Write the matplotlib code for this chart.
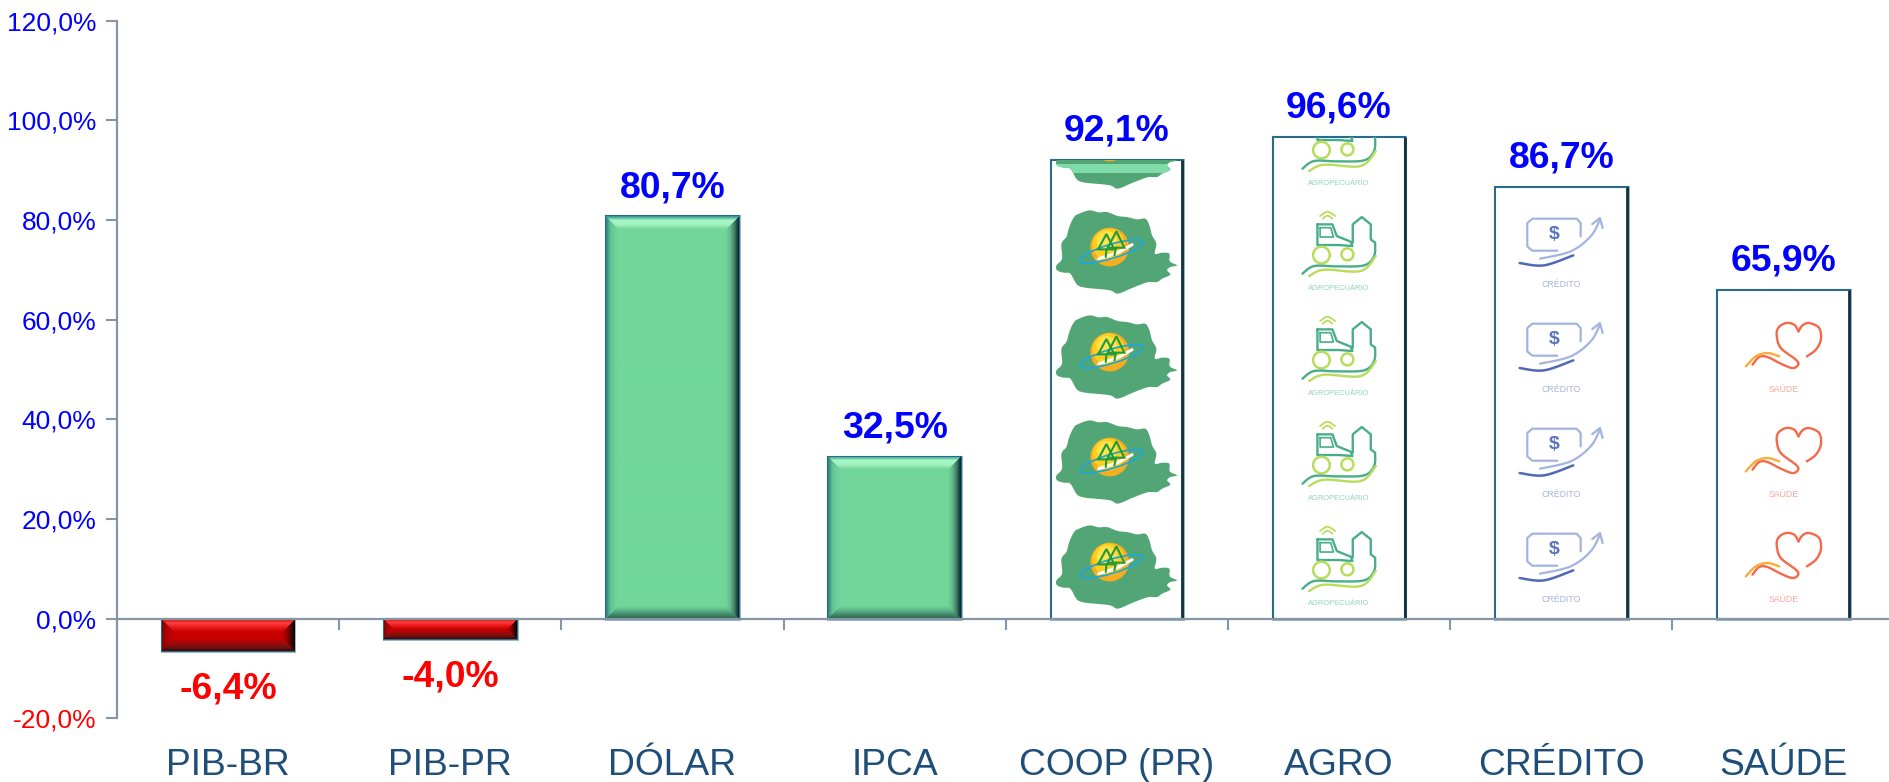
import numpy as np
import matplotlib
matplotlib.use("Agg")
import matplotlib.pyplot as plt
import matplotlib.patheffects as pe
from matplotlib.patches import Circle, Ellipse, PathPatch, Polygon, Rectangle
from matplotlib.path import Path
from matplotlib.transforms import Affine2D

categories = ["PIB-BR", "PIB-PR", "DÓLAR", "IPCA", "COOP (PR)", "AGRO", "CRÉDITO", "SAÚDE"]
values = [-6.4, -4.0, 80.7, 32.5, 92.1, 96.6, 86.7, 65.9]
value_labels = ["-6,4%", "-4,0%", "80,7%", "32,5%", "92,1%", "96,6%", "86,7%", "65,9%"]
y_ticks = [-20, 0, 20, 40, 60, 80, 100, 120]
y_tick_labels = ["-20,0%", "0,0%", "20,0%", "40,0%", "60,0%", "80,0%", "100,0%", "120,0%"]

plt.rcParams["font.family"] = ["Liberation Sans", "DejaVu Sans"]

W, H = 1890, 782
LEFT, RIGHT, Y0, YTOP = 117, 1890, 718.4, 20.5
fig = plt.figure(figsize=(W / 100, H / 100), dpi=100)
ax = fig.add_axes([LEFT / W, (H - Y0) / H, (RIGHT - LEFT) / W, (Y0 - YTOP) / H])
CAT_PX = 222.2
ax.set_xlim(-0.5, -0.5 + (RIGHT - LEFT) / CAT_PX)
ax.set_ylim(-20, 120)
PX_X = CAT_PX
PX_Y = (Y0 - YTOP) / 140
BAR_W = 0.597
AXC = "#8794a3"

for s in ("top", "right"):
    ax.spines[s].set_visible(False)
ax.spines["bottom"].set_position(("data", 0))
for s in ("left", "bottom"):
    ax.spines[s].set_color(AXC)
    ax.spines[s].set_linewidth(1.6)

ax.set_yticks(y_ticks)
ax.set_yticklabels(y_tick_labels, fontsize=19)
for lab, v in zip(ax.get_yticklabels(), y_ticks):
    lab.set_color("#ff0000" if v < 0 else "#0000ff")
ax.tick_params(axis="y", length=8, width=1.5, color=AXC, pad=7)
ax.set_xticks(np.arange(-0.5, 7, 1.0))
ax.set_xticklabels([])
ax.tick_params(axis="x", which="major", length=8, width=1.5, color=AXC)
ax.set_xticks(np.arange(len(categories)), minor=True)
ax.set_xticklabels(categories, minor=True, fontsize=26.8, color="#1f4e79")
ax.tick_params(axis="x", which="minor", length=0, pad=93)


def hexrgb(c):
    return np.array(matplotlib.colors.to_rgb(c))


def bevel_image(value, xc, stops, base):
    w = int(round(BAR_W * PX_X))
    h = max(2, int(round(abs(value) * PX_Y)))
    b = min(13.0, h / 2.0)
    xx, yy = np.meshgrid(np.arange(w) + 0.5, np.arange(h) + 0.5)
    dist = {"top": yy, "bottom": h - yy, "left": xx, "right": w - xx}
    order = ["top", "bottom", "left", "right"]
    stack = np.stack([dist[k] for k in order])
    idx = stack.argmin(axis=0)
    t = np.clip(stack.min(axis=0) / b, 0, 1)
    img = np.zeros((h, w, 3))
    for i, k in enumerate(order):
        cols = np.array([hexrgb(c) for c in stops[k]] + [hexrgb(base)])
        pos = np.linspace(0, 1, len(cols))
        for ch in range(3):
            img[..., ch] = np.where(idx == i, np.interp(t, pos, cols[:, ch]), img[..., ch])
    y0, y1 = sorted((0, value))
    return ax.imshow(img, extent=(xc - BAR_W / 2, xc + BAR_W / 2, y0, y1), origin="upper",
                     aspect="auto", zorder=2.05, interpolation="bilinear")


GREEN = {"top": ["#2f8f86", "#a6f6c6", "#a0f2c0"], "bottom": ["#2c5a4a", "#3f8a68", "#5eb488"],
         "left": ["#2f7f78", "#5fc098", "#6ed09a"], "right": ["#06202c", "#3f7c62", "#62b88c"]}
RED = {"top": ["#c01818", "#ff3c3c", "#e81818"], "bottom": ["#3c0808", "#7a1010", "#a80808"],
       "left": ["#7a0808", "#a80404", "#c00000"], "right": ["#060606", "#4a0606", "#a00000"]}

x = np.arange(len(values))
bars = ax.bar(x, values, width=BAR_W, color="white", edgecolor="#2a6b8a", linewidth=1.5, zorder=2)
for b in bars:
    b.set_path_effects([pe.withStroke(linewidth=2.2, foreground="#9dbccb")])
for i, v in enumerate(values):
    if i < 2:
        bars[i].set_facecolor("#c80000")
        bevel_image(v, i, RED, "#c80000").set_clip_path(bars[i])
    elif i < 4:
        bars[i].set_facecolor("#72d69a")
        bevel_image(v, i, GREEN, "#72d69a").set_clip_path(bars[i])
    else:
        ax.vlines(i + BAR_W / 2 - 0.8 / PX_X, 0, v, color="#12303f", linewidth=2.0, zorder=2.2)
ax.set_xlim(-0.5, -0.5 + (RIGHT - LEFT) / CAT_PX)
ax.set_ylim(-20, 120)

for i, (v, s) in enumerate(zip(values, value_labels)):
    ax.annotate(s, (i, v), xytext=(0, 20.8 if v >= 0 else -27.5), textcoords="offset points",
                ha="center", va="center", fontsize=26.9, fontweight="bold",
                color="#0000ff" if v >= 0 else "#ff0000", zorder=4)


def smooth(pts, n=10):
    """Catmull-Rom smoothing of an icon stroke."""
    p = np.array(pts, float)
    p = np.vstack([p[0], p, p[-1]])
    out = []
    for i in range(1, len(p) - 2):
        for t in np.linspace(0, 1, n, endpoint=False):
            out.append(0.5 * (2 * p[i] + (p[i + 1] - p[i - 1]) * t
                              + (2 * p[i - 1] - 5 * p[i] + 4 * p[i + 1] - p[i + 2]) * t ** 2
                              + (3 * p[i] - p[i - 1] - 3 * p[i + 1] + p[i + 2]) * t ** 3))
    out.append(p[-2])
    return np.array(out)


def z(pts, cx, base):
    """Icon sketch coordinates (3x zoom pixels) to offsets in pixels from bar centre and baseline."""
    a = np.array(pts, float)
    return np.column_stack([(a[:, 0] - cx) / 3, (base - a[:, 1]) / 3])


TILE = 105.0


class Icon:
    def __init__(self, i, k):
        self.clip = bars[i]
        self.tr = Affine2D().scale(1 / PX_X, 1 / PX_Y).translate(i, k * TILE / PX_Y) + ax.transData

    def add(self, artist):
        artist.set_transform(self.tr)
        artist.set_zorder(2.1)
        ax.add_artist(artist)
        artist.set_clip_path(self.clip)
        return artist

    def stroke(self, pts, color, lw=1.7, smoothit=True):
        p = smooth(pts) if smoothit else np.array(pts)
        self.add(PathPatch(Path(p), fill=False, edgecolor=color, linewidth=lw, capstyle="round", joinstyle="round"))

    def text(self, u, v, s, color, size, **kw):
        t = ax.text(u, v, s, color=color, fontsize=size, ha="center", va="center", zorder=2.1,
                    transform=self.tr, clip_on=True, **kw)
        t.set_clip_path(self.clip)


MAP = [(135, 660), (158, 650), (180, 645), (205, 651), (230, 650), (262, 662), (290, 665), (320, 672), (345, 670),
       (357, 690), (365, 720), (378, 745), (373, 775), (395, 772), (417, 775), (418, 798), (440, 810), (420, 815),
       (410, 825), (420, 838), (395, 850), (380, 860), (355, 860), (330, 868), (300, 880), (262, 895), (240, 885),
       (195, 880), (165, 877), (140, 868), (120, 835), (100, 832), (80, 825), (78, 810), (95, 790), (93, 745),
       (108, 725), (115, 700), (125, 675)]


def map_path():
    pts = smooth(MAP + MAP[:1], n=4)
    return z(pts, 259.5, 925)


def coop(ic):
    cx, base = 259.5, 925
    ic.add(Polygon(map_path(), closed=True, facecolor="#52a676", edgecolor="none"))
    cc = z([(238, 755)], cx, base)[0]
    ic.add(Circle(cc, 58 / 3, facecolor="#f7ad1e", edgecolor="none"))
    ic.add(Circle(cc + [-1, 2.5], 16, facecolor="#ffcf1f", edgecolor="none"))
    ic.add(Circle(cc + [-3, 6], 10, facecolor="#ffe34a", edgecolor="none"))
    ec = z([(243, 768)], cx, base)[0]
    ic.add(Ellipse(ec, 66, 14, angle=17, fill=False, edgecolor="#1fa6d8", linewidth=1.3))
    ic.stroke(z([(205, 790), (260, 772), (305, 748)], cx, base), "white", lw=2.2)
    for tree in ([(228, 716), (203, 762), (252, 762)], [(258, 708), (232, 757), (282, 757)]):
        ic.add(Polygon(z(tree, cx, base), closed=True, fill=False, edgecolor="#1f9a3c", linewidth=1.5))
    ic.stroke(z([(228, 762), (226, 785)], cx, base), "#1f9a3c", 1.5, False)
    ic.stroke(z([(257, 757), (252, 780)], cx, base), "#1f9a3c", 1.5, False)


def agro(ic):
    cx, base = 925, 928
    teal, lime = "#49ad8c", "#b8dd5c"
    f = lambda p: z(p, cx, base)
    ic.stroke(f([(868, 665), (890, 652), (913, 665)]), lime, 1.3)
    ic.stroke(f([(876, 673), (890, 664), (905, 673)]), lime, 1.3)
    ic.stroke(f([(860, 690), (905, 690), (918, 725), (960, 742), (965, 755), (925, 752), (860, 752), (860, 690)]),
              teal, 1.7, False)
    ic.stroke(f([(868, 700), (900, 700), (908, 728), (868, 728), (868, 700)]), teal, 1.2, False)
    ic.add(Circle(f([(872, 782)])[0], 25 / 3, fill=False, edgecolor=lime, linewidth=1.8))
    ic.add(Circle(f([(950, 780)])[0], 18 / 3, fill=False, edgecolor=lime, linewidth=1.8))
    ic.stroke(f([(966, 745), (966, 690), (993, 668), (1020, 690), (1020, 735), (1033, 745)]), teal, 1.7, False)
    ic.stroke(f([(1033, 745), (1030, 785), (1000, 813), (920, 816), (850, 815), (815, 838)]), teal, 1.7)
    ic.stroke(f([(835, 845), (880, 826), (990, 830), (1035, 785)]), lime, 1.7)
    ic.text(0, 15, "AGROPECUÁRIO", "#8fd6b8", 5.4)


def credito(ic):
    cx, base = 332, 1107
    f = lambda p: z(p, cx, base)
    light = "#a3b4e0"
    ic.stroke(f([(390, 905), (390, 865), (378, 852), (245, 852), (230, 865), (230, 935), (245, 948), (320, 948)]),
              light, 1.6, False)
    ic.text(*f([(312, 900)])[0], "$", "#5b74bd", 14, fontweight="bold")
    ic.stroke(f([(268, 972), (360, 950), (420, 905), (448, 855)]), light, 1.6)
    ic.stroke(f([(425, 868), (448, 850), (456, 880)]), light, 1.6, False)
    ic.stroke(f([(207, 985), (280, 992), (368, 962)]), "#5168b8", 1.8)
    ic.text(0, 19.5, "CRÉDITO", "#a7b3dc", 6.3)


def saude(ic):
    cx, base = 998, 1107
    f = lambda p: z(p, cx, base)
    ic.stroke(f([(1068, 950), (1095, 930), (1110, 900), (1105, 865), (1075, 850), (1055, 857), (1043, 875)]),
              "#f4694a", 1.7)
    ic.stroke(f([(1043, 875), (1030, 855), (1005, 850), (982, 865), (978, 890), (990, 925), (1035, 960), (1042, 975),
                 (1025, 985), (990, 972), (950, 952), (925, 952), (905, 975)]), "#f4694a", 1.7)
    ic.stroke(f([(885, 980), (915, 950), (950, 940), (985, 950)]), "#f9ab3c", 1.7)
    ic.text(0, 19.5, "SAÚDE", "#f7a79a", 6.3)


drawers = {4: coop, 5: agro, 6: credito, 7: saude}
for i, draw in drawers.items():
    k = 0
    while k * TILE < values[i] * PX_Y:
        draw(Icon(i, k))
        k += 1

# pale band where the bar's top shading shows through the clipped top map of the COOP bar
top_ic = Icon(4, 0)
band = top_ic.add(Rectangle((-60, values[4] * PX_Y - 13), 120, 9, facecolor="#7fdca8", edgecolor="none"))
clip_map = Polygon(map_path() + [0, 4 * TILE], closed=True, transform=top_ic.tr)
band.set_clip_path(clip_map)

fig.savefig("out.png", dpi=100, facecolor="white")
